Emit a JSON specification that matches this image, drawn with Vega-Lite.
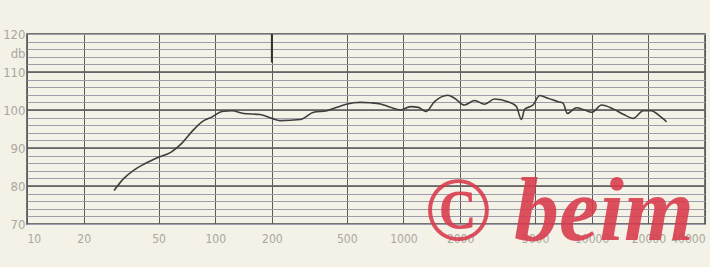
{
  "$schema": "https://vega.github.io/schema/vega-lite/v6.json",
  "autosize": {"type": "none"},
  "width": 678,
  "height": 190,
  "padding": {"left": 27, "top": 34, "right": 5, "bottom": 43},
  "background": "#f4f1e6",
  "config": {
    "view": {"stroke": "#4a4a4a", "strokeWidth": 1.5, "fill": "#f4f1e6"},
    "axis": {"labelFont": "DejaVu Sans Condensed", "labelColor": "#a8a8a0", "labelFontSize": 12, "domain": false, "ticks": false, "title": null}
  },
  "datasets": {
    "curve": [
      {"f": 29, "db": 78.8}, {"f": 32.7, "db": 82.0}, {"f": 37, "db": 84.2}, {"f": 42, "db": 85.8},
      {"f": 48.5, "db": 87.3}, {"f": 58.6, "db": 89.0}, {"f": 66.4, "db": 91.2}, {"f": 75.1, "db": 94.3},
      {"f": 85, "db": 96.9}, {"f": 96.4, "db": 98.2}, {"f": 108.5, "db": 99.6}, {"f": 122.7, "db": 99.8},
      {"f": 141.5, "db": 99.1}, {"f": 173, "db": 98.8}, {"f": 200, "db": 97.8}, {"f": 221, "db": 97.2},
      {"f": 283, "db": 97.5}, {"f": 333, "db": 99.4}, {"f": 392, "db": 99.8}, {"f": 443, "db": 100.7},
      {"f": 503, "db": 101.6}, {"f": 590, "db": 102.0}, {"f": 667, "db": 101.9}, {"f": 755, "db": 101.6},
      {"f": 853, "db": 100.7}, {"f": 964, "db": 100.0}, {"f": 1089, "db": 100.9}, {"f": 1200, "db": 100.7},
      {"f": 1318, "db": 99.6}, {"f": 1462, "db": 102.2}, {"f": 1721, "db": 103.9}, {"f": 1868, "db": 103.1},
      {"f": 2110, "db": 101.3}, {"f": 2387, "db": 102.5}, {"f": 2697, "db": 101.5}, {"f": 3048, "db": 102.9},
      {"f": 3589, "db": 102.2}, {"f": 3982, "db": 100.9}, {"f": 4230, "db": 97.5}, {"f": 4406, "db": 100.2},
      {"f": 4877, "db": 101.3}, {"f": 5292, "db": 103.8}, {"f": 5863, "db": 103.1}, {"f": 6625, "db": 102.2},
      {"f": 7046, "db": 101.8}, {"f": 7427, "db": 99.1}, {"f": 8285, "db": 100.6}, {"f": 9178, "db": 100.0},
      {"f": 10000, "db": 99.4}, {"f": 11300, "db": 101.3}, {"f": 13000, "db": 100.3}, {"f": 14700, "db": 98.9},
      {"f": 16650, "db": 97.8}, {"f": 18800, "db": 99.8}, {"f": 20800, "db": 99.8}, {"f": 22600, "db": 98.7},
      {"f": 25000, "db": 96.9}
    ],
    "major": [{"db": 80}, {"db": 90}, {"db": 100}, {"db": 110}],
    "mark200": [{"f": 200, "db": 112.5, "db2": 120}],
    "stamp": [{"f": 1290, "db": 65.8, "text": "© beim"}]
  },
  "encoding": {
    "y": {"field": "db", "type": "quantitative",
      "scale": {"domain": [70, 120], "nice": false, "zero": false},
      "axis": {"values": [70, 72, 74, 76, 78, 80, 82, 84, 86, 88, 90, 92, 94, 96, 98, 100, 102, 104, 106, 108, 110, 112, 114, 115, 116, 118, 120],
        "labelExpr": "datum.value == 115 ? 'db' : (datum.value % 10 == 0 ? datum.label : '')",
        "labelPadding": 2, "labelFontSize": 13, "labelOverlap": false, "zindex": 0,
        "grid": true, "gridColor": "#9c9cac", "gridWidth": 1,
        "gridOpacity": {"condition": {"test": "datum.value == 115", "value": 0}, "value": 1}}}
  },
  "layer": [
    {
      "data": {"name": "major"},
      "mark": {"type": "rule", "color": "#555555", "strokeWidth": 1.6}
    },
    {
      "data": {"name": "curve"},
      "mark": {"type": "line", "color": "#3e3e3e", "strokeWidth": 1.6, "interpolate": "monotone"},
      "encoding": {
        "x": {"field": "f", "type": "quantitative",
          "scale": {"type": "log", "domain": [10, 40000], "nice": false},
          "axis": {"values": [10, 20, 50, 100, 200, 500, 1000, 2000, 5000, 10000, 20000, 40000],
            "format": "d", "labelFlush": true, "labelPadding": 9, "labelOverlap": false, "zindex": 0,
            "grid": true, "gridColor": "#5a5a5a", "gridWidth": 1}}
      }
    },
    {
      "data": {"name": "mark200"},
      "mark": {"type": "rule", "color": "#333333", "strokeWidth": 2},
      "encoding": {
        "x": {"field": "f", "type": "quantitative"},
        "y2": {"field": "db2"}
      }
    },
    {
      "data": {"name": "stamp"},
      "mark": {"type": "text", "font": "Liberation Serif", "fontStyle": "italic", "fontWeight": "bold",
        "fontSize": 90, "color": "#d93a4c", "opacity": 0.88, "align": "left", "baseline": "alphabetic"},
      "encoding": {
        "x": {"field": "f", "type": "quantitative"},
        "text": {"field": "text"}
      }
    }
  ]
}
